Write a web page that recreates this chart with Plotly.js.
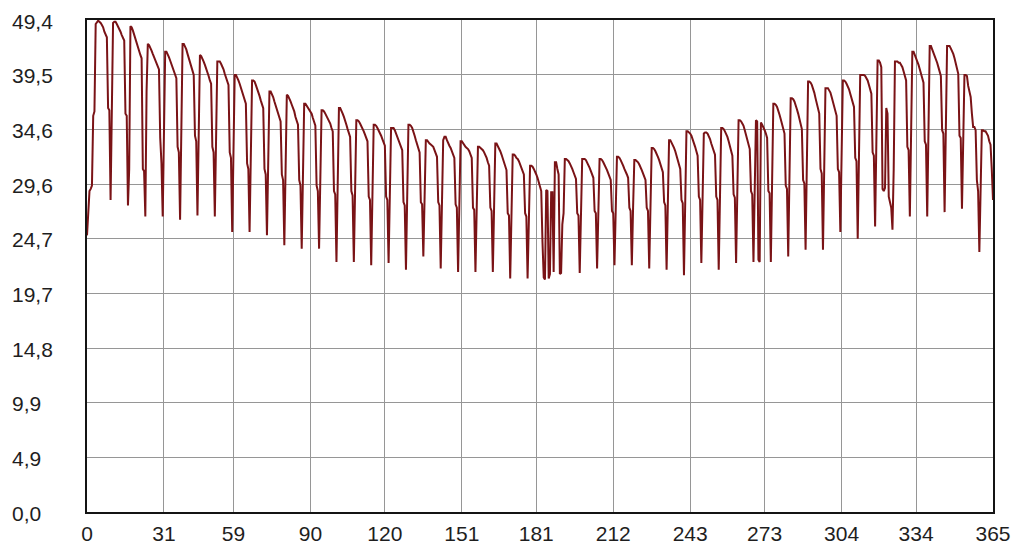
<!DOCTYPE html>
<html>
<head>
<meta charset="utf-8">
<script src="https://cdn.plot.ly/plotly-3.0.1.min.js"></script>
<style>
  html, body { margin: 0; padding: 0; background: #ffffff; }
  #chart { width: 1019px; height: 548px; }
</style>
</head>
<body>
<div id="chart"></div>
<script>
// Half-day values over one year (x = day 0 .. 365, two samples per day).
const SAMPLES_PER_DAY = 2;

// Start of the year, before the first full working week.
const openingSamples = [25.0, 27.0, 29.0, 29.2, 29.5, 35.8, 36.2];

// One row per week, 14 half-day samples each:
// ten working-week samples, two Saturday samples, Sunday, Monday morning.
const weeksQ1 = [
  [44.1, 44.3, 44.4, 44.3, 44.2, 44.0, 43.8, 43.4, 43.1, 42.9, 36.5, 36.3, 28.2, 36.0],
  [44.2, 44.3, 44.3, 44.1, 43.9, 43.6, 43.4, 43.1, 42.8, 42.6, 36.0, 35.8, 27.7, 31.0],
  [43.9, 43.8, 43.5, 43.1, 42.7, 42.3, 42.0, 41.6, 41.3, 41.0, 31.0, 30.8, 26.7, 38.0],
  [42.3, 42.2, 42.0, 41.7, 41.4, 41.1, 40.8, 40.5, 40.3, 40.0, 33.8, 31.5, 26.7, 33.5],
  [41.6, 41.6, 41.4, 41.1, 40.8, 40.5, 40.2, 39.8, 39.5, 39.2, 33.0, 32.5, 26.4, 34.0],
  [42.3, 42.3, 42.1, 41.8, 41.4, 41.0, 40.6, 40.2, 39.8, 39.5, 34.0, 33.5, 26.8, 33.0],
  [41.3, 41.2, 41.0, 40.7, 40.4, 40.1, 39.8, 39.4, 39.0, 38.7, 33.0, 32.5, 26.7, 32.5],
  [40.7, 40.7, 40.7, 40.5, 40.3, 40.0, 39.6, 39.2, 38.9, 38.6, 32.5, 32.0, 25.3, 32.0],
  [39.5, 39.5, 39.3, 39.0, 38.7, 38.3, 38.0, 37.6, 37.2, 36.9, 31.5, 31.0, 25.3, 31.5],
  [39.0, 39.0, 38.9, 38.6, 38.3, 37.9, 37.6, 37.2, 36.8, 36.5, 31.0, 30.5, 25.0, 31.0],
  [38.0, 38.0, 37.8, 37.5, 37.1, 36.7, 36.4, 36.0, 35.6, 35.3, 30.5, 30.0, 24.1, 30.5],
  [37.7, 37.6, 37.4, 37.1, 36.8, 36.5, 36.2, 35.7, 35.3, 35.0, 30.0, 29.5, 23.8, 30.0],
  [36.9, 36.9, 36.7, 36.6, 36.4, 36.2, 36.0, 35.6, 35.2, 34.9, 29.5, 29.0, 23.8, 29.5]
];
const weeksQ2 = [
  [36.3, 36.3, 36.2, 36.0, 35.8, 35.6, 35.4, 35.1, 34.7, 34.4, 29.0, 28.7, 22.6, 29.0],
  [36.5, 36.5, 36.3, 36.0, 35.7, 35.4, 35.0, 34.6, 34.2, 33.9, 29.0, 28.6, 22.6, 28.8],
  [35.4, 35.4, 35.3, 35.1, 34.9, 34.7, 34.4, 34.1, 33.8, 33.5, 28.5, 28.2, 22.3, 28.5],
  [35.0, 35.0, 34.9, 34.7, 34.5, 34.3, 34.0, 33.7, 33.4, 33.1, 28.5, 28.2, 22.5, 28.3],
  [34.7, 34.7, 34.7, 34.5, 34.2, 34.0, 33.7, 33.3, 33.0, 32.7, 28.0, 27.7, 21.9, 28.0],
  [35.0, 35.0, 34.9, 34.7, 34.4, 34.0, 33.6, 33.2, 32.8, 32.5, 28.0, 27.8, 23.1, 28.0],
  [33.6, 33.6, 33.4, 33.3, 33.2, 33.1, 33.0, 32.7, 32.4, 32.1, 28.0, 27.7, 22.0, 27.8],
  [33.6, 33.9, 33.9, 33.6, 33.3, 33.1, 32.9, 32.6, 32.3, 32.0, 27.8, 27.5, 21.7, 27.7],
  [33.5, 33.5, 33.3, 33.1, 33.0, 32.9, 32.8, 32.6, 32.3, 32.0, 27.5, 27.3, 21.7, 27.5],
  [33.0, 33.0, 32.9, 32.8, 32.7, 32.5, 32.3, 32.0, 31.6, 31.3, 27.5, 27.2, 21.7, 27.3],
  [33.3, 33.3, 33.1, 32.9, 32.6, 32.3, 31.9, 31.6, 31.2, 30.9, 27.0, 26.8, 21.1, 27.0],
  [32.3, 32.3, 32.2, 32.0, 31.9, 31.7, 31.4, 31.1, 30.8, 30.5, 27.0, 26.7, 21.1, 26.8],
  [31.3, 31.3, 31.2, 31.0, 30.8, 30.5, 30.2, 29.8, 29.5, 29.0, 24.4, 21.2, 21.0, 29.1]
];
const weeksQ3 = [
  [29.0, 21.1, 21.5, 28.9, 28.9, 21.7, 31.6, 31.6, 31.0, 30.5, 21.5, 21.6, 26.0, 27.0],
  [31.9, 31.9, 31.8, 31.7, 31.5, 31.3, 31.0, 30.7, 30.4, 30.1, 27.0, 26.8, 21.6, 27.0],
  [31.9, 31.9, 31.9, 31.8, 31.6, 31.4, 31.1, 30.8, 30.5, 30.2, 27.2, 27.0, 22.0, 27.2],
  [31.9, 31.9, 31.8, 31.6, 31.4, 31.2, 30.9, 30.6, 30.3, 30.0, 27.2, 27.0, 22.3, 27.3],
  [32.1, 32.1, 32.0, 31.8, 31.6, 31.3, 31.0, 30.8, 30.5, 30.2, 27.5, 27.2, 22.3, 27.5],
  [31.8, 31.8, 31.7, 31.6, 31.4, 31.2, 30.9, 30.6, 30.3, 30.0, 27.5, 27.2, 22.0, 27.6],
  [32.9, 32.9, 32.8, 32.6, 32.4, 32.1, 31.8, 31.4, 31.0, 30.7, 28.0, 27.7, 21.9, 28.0],
  [33.6, 33.6, 33.4, 33.2, 32.9, 32.6, 32.2, 31.8, 31.4, 31.0, 28.2, 27.9, 21.4, 28.3],
  [34.4, 34.4, 34.3, 34.2, 34.0, 33.7, 33.4, 33.0, 32.6, 32.2, 28.5, 28.2, 22.5, 28.5],
  [34.2, 34.3, 34.3, 34.2, 34.0, 33.7, 33.3, 33.0, 32.6, 32.3, 28.5, 28.2, 21.9, 28.6],
  [34.7, 34.7, 34.6, 34.4, 34.2, 33.9, 33.5, 33.1, 32.6, 32.2, 28.7, 28.4, 22.5, 28.8],
  [35.4, 35.4, 35.3, 35.1, 34.9, 34.5, 34.1, 33.7, 33.2, 32.8, 29.0, 28.7, 22.6, 29.0],
  [35.4, 35.3, 22.8, 22.6, 35.2, 35.0, 34.8, 34.5, 34.2, 33.8, 29.0, 28.8, 22.6, 29.2]
];
const weeksQ4 = [
  [36.9, 36.9, 36.8, 36.6, 36.3, 35.9, 35.5, 35.1, 34.6, 34.2, 29.5, 29.2, 23.1, 29.8],
  [37.4, 37.4, 37.3, 37.1, 36.8, 36.4, 36.0, 35.5, 35.0, 34.6, 30.0, 29.7, 23.7, 30.5],
  [38.9, 38.9, 38.8, 38.6, 38.3, 37.9, 37.4, 36.9, 36.4, 36.0, 31.0, 30.6, 23.7, 31.0],
  [38.3, 38.3, 38.3, 38.1, 37.9, 37.5, 37.1, 36.7, 36.2, 35.8, 31.0, 30.7, 25.3, 31.5],
  [39.0, 39.0, 38.9, 38.7, 38.5, 38.2, 37.8, 37.4, 37.0, 36.6, 32.0, 31.7, 24.7, 32.0],
  [39.5, 39.5, 39.5, 39.5, 39.4, 39.2, 39.0, 38.6, 38.2, 37.8, 32.5, 32.2, 25.8, 32.5],
  [40.8, 40.8, 40.6, 40.2, 29.2, 29.0, 29.3, 36.5, 36.0, 28.5, 28.0, 27.5, 25.5, 31.0],
  [40.7, 40.7, 40.7, 40.6, 40.6, 40.4, 40.2, 39.8, 39.4, 39.0, 33.0, 32.7, 26.7, 33.5],
  [41.6, 41.6, 41.3, 41.1, 40.8, 40.4, 40.0, 39.6, 39.2, 38.8, 33.5, 33.2, 26.7, 34.0],
  [42.1, 42.1, 41.8, 41.6, 41.3, 41.0, 40.6, 40.2, 39.8, 39.4, 34.5, 34.2, 27.1, 34.5],
  [42.1, 42.1, 42.1, 41.9, 41.7, 41.4, 41.0, 40.5, 40.0, 39.6, 34.0, 33.8, 27.4, 33.5],
  [39.5, 39.5, 39.4, 38.5, 37.8, 37.5, 36.0, 34.8, 34.8, 34.5, 30.0, 29.0, 23.5, 29.0]
];
// Last working days of the year.
const closingSamples = [34.5, 34.5, 34.4, 34.4, 34.2, 34.0, 33.5, 33.2, 31.0, 28.2];

// Axis ticks.
const xTickVals = [0, 31, 59, 90, 120, 151, 181, 212, 243, 273, 304, 334, 365];
const yTickVals = [0, 4.94, 9.88, 14.82, 19.76, 24.7, 29.64, 34.58, 39.52, 44.46];
const yTickText = ['0,0', '4,9', '9,9', '14,8', '19,7', '24,7', '29,6', '34,6', '39,5', '49,4'];

const values = openingSamples.concat(
  weeksQ1.flat(), weeksQ2.flat(), weeksQ3.flat(), weeksQ4.flat(), closingSamples);
const days = values.map((_, i) => i / SAMPLES_PER_DAY);

const labelFont = { family: 'Liberation Sans, Arial, sans-serif', size: 21, color: '#1e1e1e' };

const trace = {
  type: 'scatter',
  mode: 'lines',
  x: days,
  y: values,
  line: { color: '#7a1316', width: 2, shape: 'linear' },
  hoverinfo: 'skip'
};

// Value labels on the left edge, left-aligned.
const yLabels = yTickVals.map((v, i) => ({
  xref: 'paper', yref: 'y',
  x: -0.085, y: v,
  xanchor: 'left', yanchor: 'middle',
  yshift: -1,
  text: yTickText[i],
  showarrow: false,
  font: labelFont
}));

const layout = {
  width: 1019,
  height: 548,
  margin: { l: 87, r: 26, t: 20, b: 36, pad: 0 },
  paper_bgcolor: '#ffffff',
  plot_bgcolor: '#ffffff',
  showlegend: false,
  font: labelFont,
  xaxis: {
    range: [0, 365],
    tickmode: 'array',
    tickvals: xTickVals,
    ticktext: xTickVals.map(String),
    ticks: '',
    ticklabelstandoff: 2,
    tickfont: labelFont,
    showgrid: true,
    gridcolor: '#969696',
    gridwidth: 1,
    zeroline: false,
    showline: true,
    mirror: true,
    linecolor: '#141414',
    linewidth: 2,
    fixedrange: true
  },
  yaxis: {
    range: [0, 44.46],
    tickmode: 'array',
    tickvals: yTickVals,
    showticklabels: false,
    ticks: '',
    showgrid: true,
    gridcolor: '#969696',
    gridwidth: 1,
    zeroline: false,
    showline: true,
    mirror: true,
    linecolor: '#141414',
    linewidth: 2,
    fixedrange: true
  },
  annotations: yLabels
};

Plotly.newPlot('chart', [trace], layout, { staticPlot: true, displayModeBar: false });
</script>
</body>
</html>
